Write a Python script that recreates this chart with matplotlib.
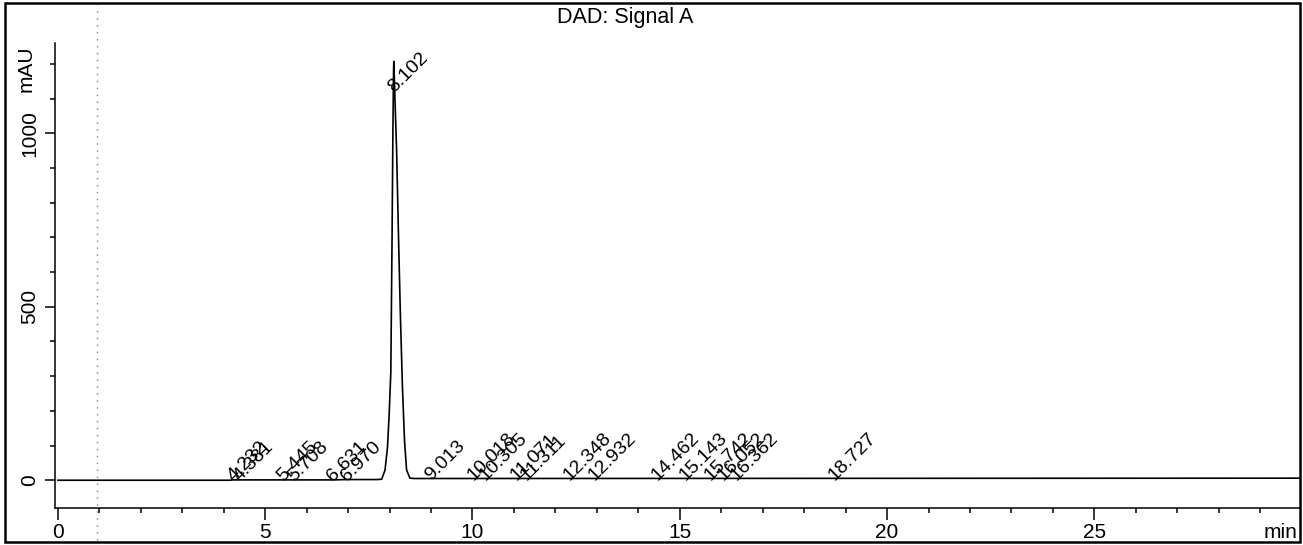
import matplotlib.pyplot as plt
from matplotlib.patches import Rectangle
from matplotlib.ticker import MultipleLocator
import matplotlib.transforms as mtransforms

plt.rcParams['font.family'] = ['Liberation Sans', 'DejaVu Sans']

# trace (min, mAU)
times = [0.0, 4.15, 4.23, 4.38, 5.45, 5.71, 6.63, 6.97, 7.70, 7.81, 7.89,
         7.95, 7.99, 8.03, 8.06, 8.08, 8.095, 8.102, 8.115, 8.14, 8.17,
         8.21, 8.26, 8.31, 8.36, 8.41, 8.49, 8.60, 9.01, 30.0]
signal = [0, 0, 1, 1, 1, 1, 1, 2, 2, 3, 29,
          95, 190, 310, 700, 1000, 1170, 1207, 1160, 1060, 950,
          730, 480, 270, 115, 30, 6, 5, 5, 6]

# peak labels: retention time and label anchor height
peak_rt = [4.232, 4.381, 5.445, 5.708, 6.631, 6.970, 8.102, 9.013, 10.018,
           10.305, 11.071, 11.311, 12.348, 12.932, 14.462, 15.143, 15.742,
           16.052, 16.362, 18.727]
peak_y = [-5, -5, -5, -5, -5, -5, 1115, -3, -3,
          -3, -3, -3, -3, -3, -3, -3, -3,
          -3, -3, -3]

injection_mark = 0.94

fig = plt.figure(figsize=(13.03, 5.45), dpi=100)
ax = fig.add_axes([55 / 1303, 37 / 545, 1245 / 1303, 465 / 545])

ax.plot(times, signal, color="black", lw=1.2)

for rt, y in zip(peak_rt, peak_y):
    ax.text(rt, y, f"{rt:.3f}", rotation=45, rotation_mode="anchor",
            ha="left", va="baseline", fontsize=14)

ax.set_xlim(-0.07, 29.96)
ax.set_ylim(-80, 1260)

ax.xaxis.set_major_locator(MultipleLocator(5))
ax.xaxis.set_minor_locator(MultipleLocator(1))
ax.yaxis.set_major_locator(MultipleLocator(500))
ax.yaxis.set_minor_locator(MultipleLocator(100))
ax.set_xticks([0, 5, 10, 15, 20, 25])

ax.tick_params(axis="x", which="major", direction="out", length=8.5, width=1.1,
               labelsize=15, pad=2)
ax.tick_params(axis="x", which="minor", direction="out", length=3.6, width=1.1)
ax.tick_params(axis="y", which="major", direction="out", length=7.2, width=1.1,
               labelsize=15, labelrotation=90, pad=4)
ax.tick_params(axis="y", which="minor", direction="out", length=3.6, width=1.1)
for lbl in ax.get_yticklabels():
    lbl.set_va("center")

ax.spines["top"].set_visible(False)
ax.spines["right"].set_visible(False)
ax.spines["left"].set_linewidth(1.1)
ax.spines["bottom"].set_linewidth(1.1)

ax.text(-0.023, 0.945, "mAU", transform=ax.transAxes, rotation=90,
        ha="center", va="center", fontsize=15)
fig.text(1297 / 1303, 12 / 545, "min", ha="right", va="center", fontsize=15)
fig.text(625 / 1303, 1 - 17 / 545, "DAD: Signal A", ha="center", va="center",
         fontsize=15.5)

# dotted marker line across the whole sheet
trans = mtransforms.blended_transform_factory(ax.transData, fig.transFigure)
ax.plot([injection_mark, injection_mark], [0.01, 0.99], transform=trans,
        color="gray", lw=1, linestyle=(0, (1, 4)), clip_on=False)

# outer frame
fig.patches.append(Rectangle((5 / 1303, 3 / 545), 1295 / 1303, 539 / 545,
                             transform=fig.transFigure, fill=False,
                             edgecolor="black", lw=1.8))

fig.savefig("out.png", dpi=100)
